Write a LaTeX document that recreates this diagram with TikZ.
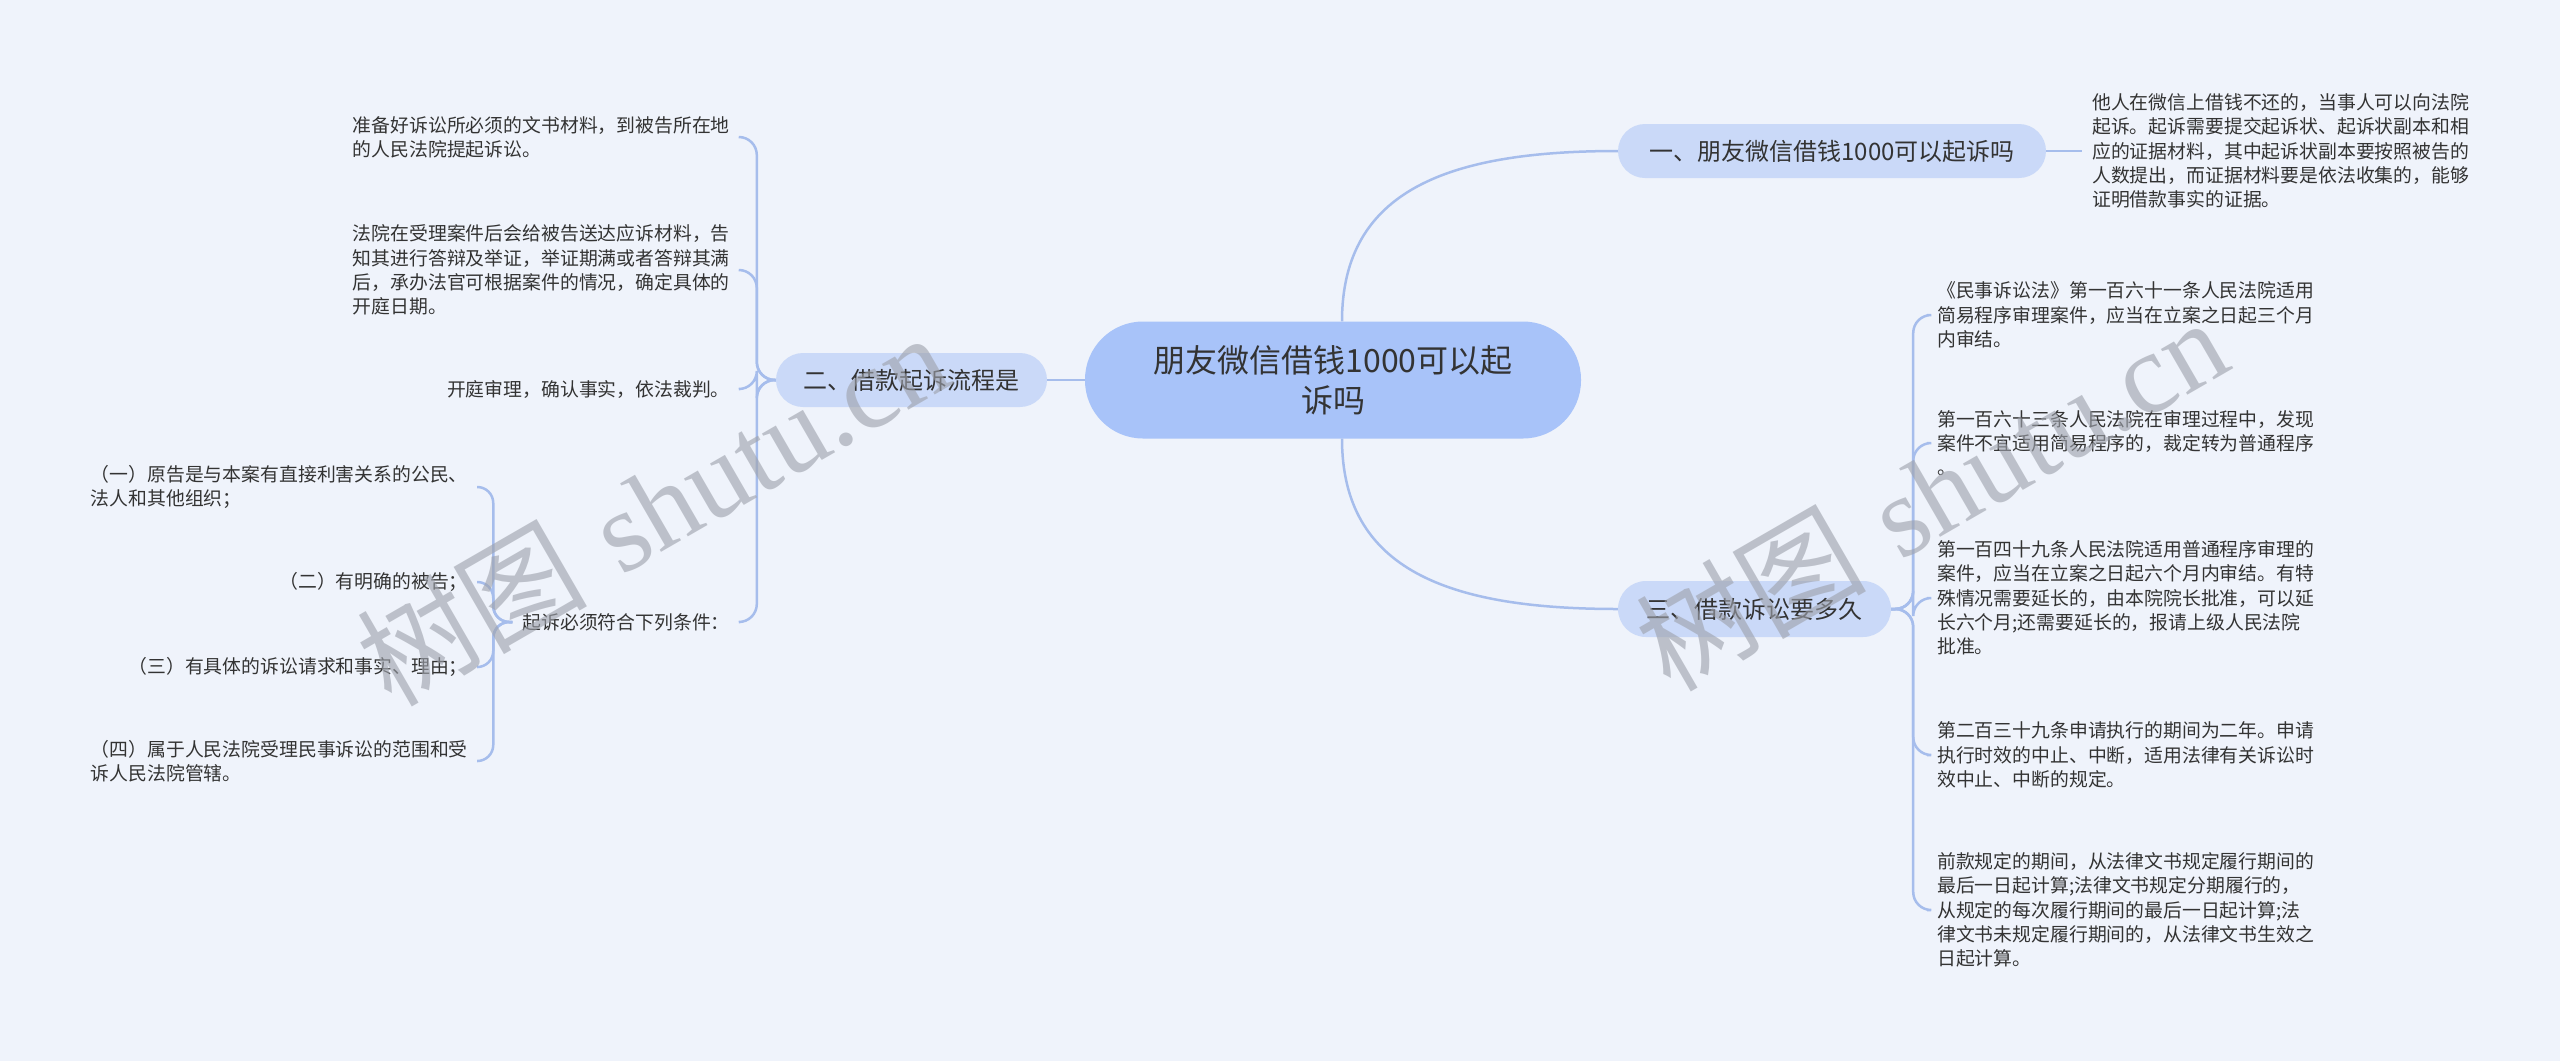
\documentclass[tikz,border=0pt]{standalone}
\usepackage{fontspec}
\newfontfamily\cjk{Noto Sans CJK SC}
\newfontfamily\wmserif{Liberation Serif}
\definecolor{bgc}{HTML}{EFF3FB}
\definecolor{linec}{HTML}{A6BDEC}
\definecolor{cenc}{HTML}{A8C3F9}
\definecolor{brc}{HTML}{CAD9F8}
\definecolor{txtc}{HTML}{333333}
\definecolor{wmc}{HTML}{9EA2AC}
\begin{document}
\begin{tikzpicture}[x=1pt,y=-1pt,
  conn/.style={draw=linec, line width=2.5pt},
  leaf/.style={font=\fontsize{18.85}{24.3}\selectfont\cjk, text=txtc, align=left, inner xsep=10pt, inner ysep=0pt},
  branch/.style={fill=brc, rounded corners=27pt, minimum height=54pt, inner sep=0pt, font=\fontsize{24}{30}\selectfont\cjk, text=txtc},
  wm/.style={text=wmc, opacity=0.62, font=\fontsize{115}{115}\selectfont, inner sep=0pt}]
\path[fill=bgc] (0,0) rectangle (2560,1061);
\useasboundingbox (0,0) rectangle (2560,1061);

% central and branches
\node[fill=cenc, rounded corners=58pt, minimum width=496pt, minimum height=117pt, inner sep=0pt, align=center, text=txtc, font=\fontsize{32}{40}\selectfont\cjk] (c) at (1333,380) {朋友微信借钱1000可以起\\诉吗};
\node[branch, minimum width=428pt] (b1) at (1832,151) {一、朋友微信借钱1000可以起诉吗};
\node[branch, minimum width=271pt] (b2) at (911.5,380) {二、借款起诉流程是};
\node[branch, minimum width=273pt, minimum height=56pt, rounded corners=28pt] (b3) at (1754.5,609) {三、借款诉讼要多久};

\draw[conn] ([xshift=9pt]c.north) .. controls +(0,-132) and +(-168,0) .. (b1.west);
\draw[conn] ([xshift=9pt]c.south) .. controls +(0,132) and +(-168,0) .. (b3.west);
\draw[conn] (c.west) -- (b2.east);

% branch 1 leaf
\node[leaf, anchor=west] (l1) at (2082,151) {他人在微信上借钱不还的，当事人可以向法院\\起诉。起诉需要提交起诉状、起诉状副本和相\\应的证据材料，其中起诉状副本要按照被告的\\人数提出，而证据材料要是依法收集的，能够\\证明借款事实的证据。};
\draw[conn] (b1.east) -- (l1.west);

% branch 2 leaves
\node[leaf, anchor=east] (lA) at (740,137) {准备好诉讼所必须的文书材料，到被告所在地\\的人民法院提起诉讼。};
\node[leaf, anchor=east] (lB) at (740,270) {法院在受理案件后会给被告送达应诉材料，告\\知其进行答辩及举证，举证期满或者答辩其满\\后，承办法官可根据案件的情况，确定具体的\\开庭日期。};
\node[leaf, anchor=east] (lC) at (740,389) {开庭审理，确认事实，依法裁判。};
\node[leaf, anchor=east] (lD) at (740,622) {起诉必须符合下列条件：};
\foreach \n in {lA,lB,lC,lD}
  \draw[conn, rounded corners=18pt] (b2.west) -- ++(-19,0) |- (\n.east);

% conditions
\node[leaf, anchor=east] (d1) at (478,487) {（一）原告是与本案有直接利害关系的公民、\\法人和其他组织；};
\node[leaf, anchor=east] (d2) at (478,582) {（二）有明确的被告；};
\node[leaf, anchor=east] (d3) at (478,667) {（三）有具体的诉讼请求和事实、理由；};
\node[leaf, anchor=east] (d4) at (478,761) {（四）属于人民法院受理民事诉讼的范围和受\\诉人民法院管辖。};
\foreach \n in {d1,d2,d3,d4}
  \draw[conn, rounded corners=16pt] (lD.west) -- ++(-19,0) |- (\n.east);

% branch 3 leaves
\node[leaf, anchor=west] (r1) at (1927,315) {《民事诉讼法》第一百六十一条人民法院适用\\简易程序审理案件，应当在立案之日起三个月\\内审结。};
\node[leaf, anchor=west] (r2) at (1927,443) {第一百六十三条人民法院在审理过程中，发现\\案件不宜适用简易程序的，裁定转为普通程序\\。};
\node[leaf, anchor=west] (r3) at (1927,598) {第一百四十九条人民法院适用普通程序审理的\\案件，应当在立案之日起六个月内审结。有特\\殊情况需要延长的，由本院院长批准，可以延\\长六个月;还需要延长的，报请上级人民法院\\批准。};
\node[leaf, anchor=west] (r4) at (1927,755) {第二百三十九条申请执行的期间为二年。申请\\执行时效的中止、中断，适用法律有关诉讼时\\效中止、中断的规定。};
\node[leaf, anchor=west] (r5) at (1927,910) {前款规定的期间，从法律文书规定履行期间的\\最后一日起计算;法律文书规定分期履行的，\\从规定的每次履行期间的最后一日起计算;法\\律文书未规定履行期间的，从法律文书生效之\\日起计算。};
\foreach \n in {r1,r2,r3,r4,r5}
  \draw[conn, rounded corners=18pt] (b3.east) -- ++(22,0) |- (\n.west);

% watermarks
\node[wm, rotate=30] (w1) at (652,508) {{\cjk 树图} {\wmserif shutu.cn}};
\node[wm, rotate=30] (w2) at (1931,493) {{\cjk 树图} {\wmserif shutu.cn}};
\end{tikzpicture}
\end{document}
